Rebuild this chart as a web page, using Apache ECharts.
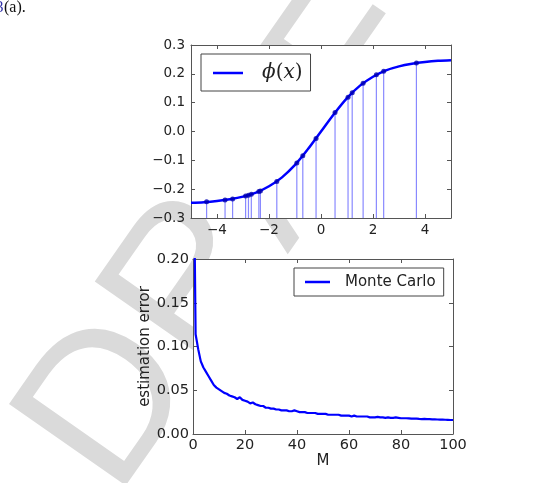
<!DOCTYPE html>
<html>
<head>
<meta charset="utf-8">
<script src="https://cdn.jsdelivr.net/npm/echarts@6/dist/echarts.min.js"></script>
<style>
  html, body { margin: 0; padding: 0; background: #fff; }
  #main { width: 546px; height: 483px; }
</style>
</head>
<body>
<div id="main"></div>
<script>
// phi(x) curve
const phiX = [-5, -4.5, -4, -3.5, -3, -2.5, -2, -1.5, -1, -0.5, 0, 0.5, 1, 1.5, 2, 2.5, 3, 3.5, 4, 4.5, 5];
const phiY = [-0.247, -0.245, -0.241, -0.235, -0.226, -0.212, -0.190, -0.159, -0.116, -0.061, 0,
  0.061, 0.116, 0.159, 0.190, 0.212, 0.226, 0.235, 0.241, 0.245, 0.247];

// sample points (stems + dots)
const sampleX = [-4.40, -3.69, -3.40, -2.90, -2.79, -2.68, -2.39, -2.33, -1.70, -0.93, -0.70, -0.19,
  0.54, 1.04, 1.20, 1.62, 2.13, 2.41, 3.67];
const sampleY = [-0.244, -0.238, -0.234, -0.224, -0.221, -0.218, -0.208, -0.206, -0.173, -0.109, -0.084, -0.024,
  0.066, 0.119, 0.134, 0.167, 0.197, 0.209, 0.238];

// Monte Carlo estimation error, M = 0..100
const mcError = [
  0.400, 0.114, 0.097, 0.083, 0.076, 0.071, 0.066, 0.061, 0.056, 0.053,
  0.051, 0.049, 0.047, 0.046, 0.044, 0.043, 0.042, 0.040, 0.042, 0.039,
  0.038, 0.037, 0.035, 0.036, 0.034, 0.033, 0.032, 0.032, 0.030, 0.030,
  0.029, 0.029, 0.028, 0.028, 0.027, 0.027, 0.027, 0.026, 0.026, 0.027,
  0.026, 0.025, 0.025, 0.025, 0.024, 0.024, 0.024, 0.024, 0.023, 0.023,
  0.023, 0.023, 0.022, 0.022, 0.022, 0.022, 0.022, 0.021, 0.021, 0.021,
  0.021, 0.020, 0.021, 0.020, 0.020, 0.020, 0.020, 0.020, 0.019, 0.019,
  0.019, 0.0195, 0.019, 0.019, 0.0185, 0.019, 0.0185, 0.0185, 0.019, 0.0185,
  0.018, 0.018, 0.018, 0.0178, 0.0175, 0.0175, 0.0175, 0.0172, 0.017, 0.0172,
  0.017, 0.017, 0.0168, 0.0168, 0.0166, 0.0165, 0.0165, 0.0163, 0.0162, 0.016,
  0.016
];

// tick labels
const topXTicks = [-4, -2, 0, 2, 4];
const topYTicks = [-0.3, -0.2, -0.1, 0.0, 0.1, 0.2, 0.3];

const chart = echarts.init(document.getElementById('main'));

const frame = '#555';
const sans = '"DejaVu Sans", sans-serif';
const minus = s => s.replace('-', '\u2212');

function axisBase(extra) {
  return Object.assign({
    type: 'value',
    axisLine: { show: true, onZero: false, lineStyle: { color: frame, width: 1 } },
    axisTick: { show: true, inside: true, length: 4, lineStyle: { color: frame } },
    splitLine: { show: false },
    axisLabel: { show: false }
  }, extra);
}

const option = {
  animation: false,
  backgroundColor: '#fff',
  graphic: [
    // page watermark, shows only outside the plot areas
    {
      type: 'text', x: 154, y: 526, rotation: 0.96, z: -10,
      style: { text: 'DRAFT', font: '207px "Liberation Sans"', fill: '#dadada', textAlign: 'left', textVerticalAlign: 'bottom' }
    },
    {
      type: 'text', x: 3.5, y: 8,
      style: { text: '3', font: '16px "Liberation Serif"', fill: '#3333aa', textAlign: 'right', textVerticalAlign: 'middle' }
    },
    {
      type: 'text', x: 4, y: 8,
      style: { text: '(a).', font: '16px "Liberation Serif"', fill: '#111', textAlign: 'left', textVerticalAlign: 'middle' }
    }
  ],
  grid: [
    { left: 191, right: 95, top: 45, bottom: 265, show: true, backgroundColor: '#fff', borderWidth: 0 },
    { left: 193, right: 93, top: 259, bottom: 49, show: true, backgroundColor: '#fff', borderWidth: 0 }
  ],
  legend: [
    {
      data: [{ name: 'phi', icon: 'rect' }],
      left: 201, top: 54,
      padding: [9, 8, 8, 12],
      itemWidth: 30, itemHeight: 2.5,
      backgroundColor: '#fff', borderColor: '#444', borderWidth: 1, borderRadius: 0,
      formatter: () => '{i|\u03d5}{r|(}{i|x}{r|)}',
      textStyle: {
        rich: {
          i: { fontFamily: '"DejaVu Serif", serif', fontStyle: 'italic', fontSize: 20, color: '#222', lineHeight: 22 },
          r: { fontFamily: '"DejaVu Serif", serif', fontSize: 20, color: '#222', lineHeight: 22 }
        },
        padding: [0, 0, 0, 14]
      }
    },
    {
      data: [{ name: 'Monte Carlo', icon: 'rect' }],
      left: 294, top: 268,
      padding: [5, 8, 5, 11],
      itemWidth: 25, itemHeight: 2.5,
      backgroundColor: '#fff', borderColor: '#444', borderWidth: 1, borderRadius: 0,
      textStyle: { fontFamily: sans, fontSize: 15, color: '#222', padding: [0, 0, 0, 10], lineHeight: 18 }
    }
  ],
  xAxis: [
    axisBase({
      gridIndex: 0, position: 'bottom', min: -5, max: 5,
      axisTick: { show: true, inside: true, length: 4, lineStyle: { color: frame }, customValues: topXTicks },
      axisLabel: { show: true, customValues: topXTicks, margin: 5, fontFamily: sans, fontSize: 13.5, color: '#222',
        formatter: v => minus(String(v)) }
    }),
    axisBase({
      gridIndex: 0, position: 'top', min: -5, max: 5,
      axisTick: { show: true, inside: true, length: 4, lineStyle: { color: frame }, customValues: topXTicks }
    }),
    axisBase({
      gridIndex: 1, position: 'bottom', min: 0, max: 100, interval: 20,
      name: 'M', nameLocation: 'middle', nameGap: 20,
      nameTextStyle: { fontFamily: sans, fontSize: 15, color: '#222' },
      axisLabel: { show: true, margin: 4, fontFamily: sans, fontSize: 14.5, color: '#222' }
    }),
    axisBase({ gridIndex: 1, position: 'top', min: 0, max: 100, interval: 20 })
  ],
  yAxis: [
    axisBase({
      gridIndex: 0, position: 'left', min: -0.3, max: 0.3,
      axisTick: { show: true, inside: true, length: 4, lineStyle: { color: frame }, customValues: topYTicks },
      axisLabel: { show: true, customValues: topYTicks, margin: 6, fontFamily: sans, fontSize: 13.5, color: '#222',
        formatter: v => minus(v.toFixed(1)) }
    }),
    axisBase({
      gridIndex: 0, position: 'right', min: -0.3, max: 0.3,
      axisTick: { show: true, inside: true, length: 4, lineStyle: { color: frame }, customValues: topYTicks }
    }),
    axisBase({
      gridIndex: 1, position: 'left', min: 0, max: 0.2, interval: 0.05,
      name: 'estimation error', nameLocation: 'middle', nameGap: 40,
      nameTextStyle: { fontFamily: sans, fontSize: 15, color: '#222' },
      axisLabel: { show: true, margin: 4, fontFamily: sans, fontSize: 14.5, color: '#222',
        formatter: v => v.toFixed(2) }
    }),
    axisBase({ gridIndex: 1, position: 'right', min: 0, max: 0.2, interval: 0.05 })
  ],
  series: [
    {
      name: 'stems',
      type: 'custom',
      xAxisIndex: 0, yAxisIndex: 0,
      data: sampleX.map((x, i) => [x, sampleY[i]]),
      renderItem: (params, api) => {
        const tip = api.coord([api.value(0), api.value(1)]);
        const base = api.coord([api.value(0), -0.3]);
        return {
          type: 'line',
          shape: { x1: base[0], y1: base[1], x2: tip[0], y2: tip[1] },
          style: { stroke: 'rgba(40,40,255,0.55)', lineWidth: 1.2 }
        };
      },
      z: 2
    },
    {
      name: 'phi',
      type: 'line',
      xAxisIndex: 0, yAxisIndex: 0,
      data: phiX.map((x, i) => [x, phiY[i]]),
      smooth: 0.35,
      symbol: 'none',
      lineStyle: { color: '#0000ff', width: 2.5 },
      itemStyle: { color: '#0000ff' },
      z: 3
    },
    {
      name: 'points',
      type: 'scatter',
      xAxisIndex: 0, yAxisIndex: 0,
      data: sampleX.map((x, i) => [x, sampleY[i]]),
      symbolSize: 5,
      itemStyle: { color: '#0000b0' },
      z: 4
    },
    {
      name: 'Monte Carlo',
      type: 'line',
      xAxisIndex: 2, yAxisIndex: 2,
      data: mcError.map((v, i) => [i, v]),
      symbol: 'none',
      clip: true,
      lineStyle: { color: '#0000ff', width: 2.2 },
      itemStyle: { color: '#0000ff' }
    }
  ]
};

chart.setOption(option);
</script>
</body>
</html>
